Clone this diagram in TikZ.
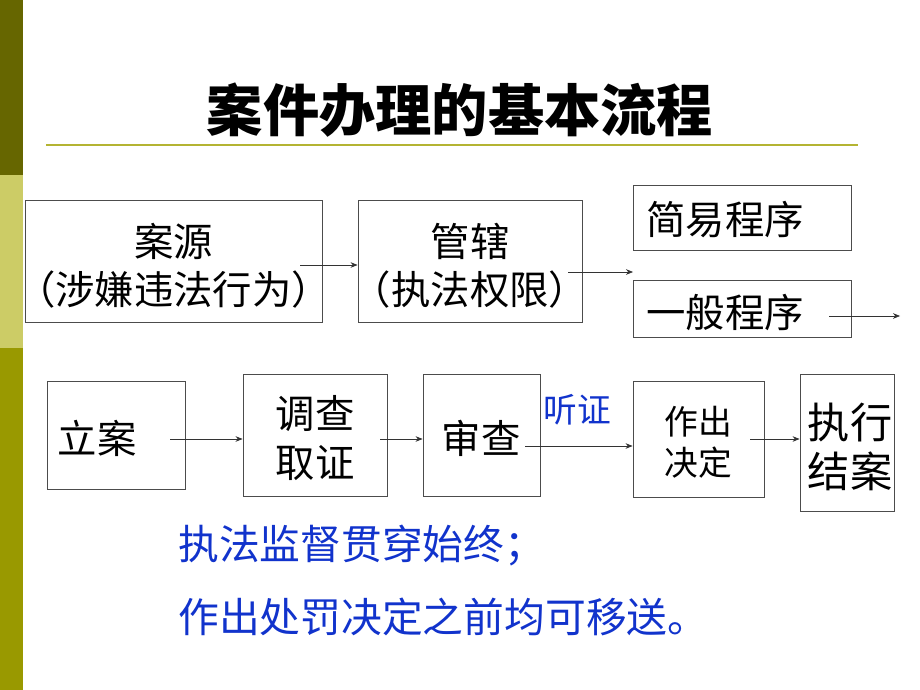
\documentclass[tikz,border=0pt]{standalone}
\usepackage{fontspec}
\setmainfont{Noto Sans CJK SC}
\newfontfamily\cjk{Noto Sans CJK SC}
\usetikzlibrary{positioning,arrows.meta}
\definecolor{barDark}{RGB}{102,102,0}
\definecolor{barLight}{RGB}{204,204,102}
\definecolor{barMid}{RGB}{153,153,0}
\definecolor{ruleCol}{RGB}{180,180,50}
\definecolor{noteBlue}{RGB}{17,51,204}
\begin{document}
\begin{tikzpicture}[x=0.025cm,y=-0.025cm,>={Stealth[length=5pt,width=4pt]}]
        % Styles
        \tikzstyle{box}=[draw=black!70,line width=0.6pt,inner sep=0pt]
        \tikzstyle{big text}=[font=\cjk\fontsize{28}{34}\selectfont,align=center,inner sep=0pt]
        \tikzstyle{step text}=[font=\cjk\fontsize{28}{35}\selectfont,align=center,inner sep=0pt]
        \tikzstyle{flow}=[->,line width=0.5pt,black!80]
        \tikzstyle{note}=[font=\cjk\fontsize{29}{34}\selectfont,text=noteBlue,anchor=west,inner sep=0pt]
        %The graphic
        \useasboundingbox (0,0) rectangle (920,690);
        %side bar and title
        \fill[barDark] (0,0) rectangle (23,175);
        \fill[barLight] (0,175) rectangle (23,348);
        \fill[barMid] (0,348) rectangle (23,690);
        \node[font=\cjk\bfseries\fontsize{40}{40}\selectfont,inner sep=0pt] (title) at (460,110) {案件办理的基本流程};
        \draw[ruleCol,line width=1.2pt] (46,145) -- (858,145);
        %first row
        \node[box,minimum width=297*0.025cm,minimum height=122*0.025cm] (src) at (173.5,261) {};
        \node[big text] (srctxt) at (173.5,266) {案源\\（涉嫌违法行为）};
        \node[box,minimum width=224*0.025cm,minimum height=122*0.025cm] (jur) at (470,261) {};
        \node[big text] (jurtxt) at (470,266) {管辖\\（执法权限）};
        \node[box,minimum width=218*0.025cm,minimum height=65*0.025cm] (easy) at (742,217.5) {};
        \node[step text] (easytxt) at (725,220) {简易程序};
        \node[box,minimum width=218*0.025cm,minimum height=57*0.025cm] (gen) at (742,308.5) {};
        \node[step text] (gentxt) at (725,312) {一般程序};
        %second row
        \node[box,minimum width=138*0.025cm,minimum height=108*0.025cm] (file) at (116,435) {};
        \node[step text] (filetxt) at (97,438) {立案};
        \node[box,minimum width=144*0.025cm,minimum height=122*0.025cm] (inv) at (315,435) {};
        \node[step text] (invtxt) at (315,438) {调查\\取证};
        \node[box,minimum width=117*0.025cm,minimum height=122*0.025cm] (rev) at (481.5,435) {};
        \node[step text] (revtxt) at (481,438) {审查};
        \node[font=\cjk\fontsize{24}{24}\selectfont,text=noteBlue,inner sep=0pt] (hear) at (577,410) {听证};
        \node[box,minimum width=131*0.025cm,minimum height=116*0.025cm] (dec) at (698.5,439) {};
        \node[font=\cjk\fontsize{24}{29}\selectfont,align=center,inner sep=0pt] (dectxt) at (698,442) {作出\\决定};
        \node[box,minimum width=94*0.025cm,minimum height=137*0.025cm] (exe) at (847,442.5) {};
        \node[font=\cjk\fontsize{30}{35}\selectfont,align=center,inner sep=0pt] (exetxt) at (850,447) {执行\\结案};
        %arrows
        \coordinate (s1) at (300,265);
        \coordinate (s2) at (568,272);
        \coordinate (e2) at (633,272);
        \coordinate (s3) at (829,316);
        \coordinate (e3) at (900,316);
        \coordinate (s4) at (170,439);
        \coordinate (s5) at (380,439);
        \coordinate (s6) at (525,446);
        \coordinate (s7) at (750,439);
        \draw[flow] (s1) -- (s1 -| jur.west);
        \draw[flow] (s2) -- (e2);
        \draw[flow] (s3) -- (e3);
        \draw[flow] (s4) -- (s4 -| inv.west);
        \draw[flow] (s5) -- (s5 -| rev.west);
        \draw[flow] (s6) -- (s6 -| dec.west);
        \draw[flow] (s7) -- (s7 -| exe.west);
        %notes
        \node[note] (note1) at (178,546) {执法监督贯穿始终；};
        \node[note] (note2) at (178,617) {作出处罚决定之前均可移送。};
    \end{tikzpicture}
\end{document}
